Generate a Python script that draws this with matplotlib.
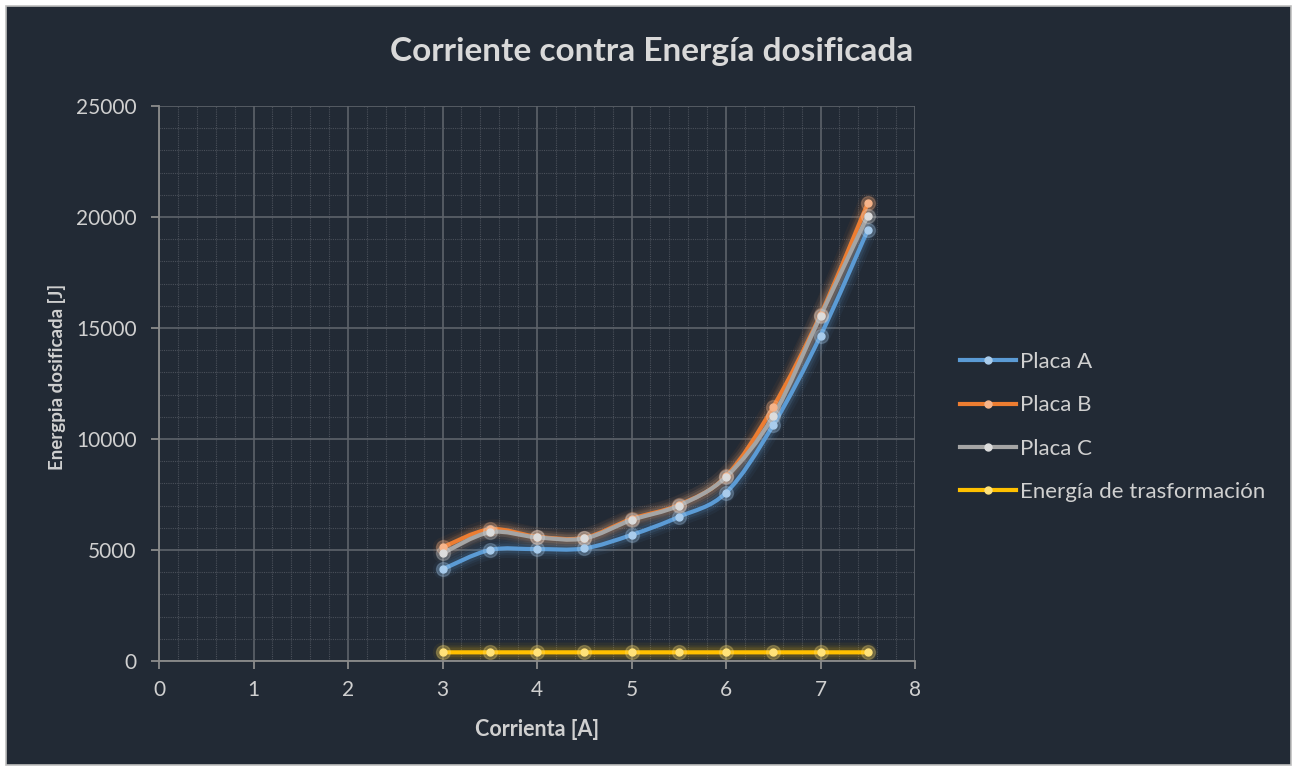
import numpy as np
import matplotlib.pyplot as plt
from matplotlib.path import Path
from matplotlib.patches import PathPatch, Rectangle

plt.rcParams['font.family'] = ['Lato', 'DejaVu Sans']

# Data
corriente = [3, 3.5, 4, 4.5, 5, 5.5, 6, 6.5, 7, 7.5]
placa_a = [4130, 5000, 5040, 5070, 5680, 6490, 7580, 10630, 14650, 19410]
placa_b = [5120, 5930, 5600, 5550, 6400, 7030, 8320, 11450, 15600, 20620]
placa_c = [4850, 5800, 5570, 5520, 6350, 7000, 8290, 11040, 15540, 20060]
energia_trans = [390, 390, 390, 390, 390, 390, 390, 390, 390, 390]

series = [
    ('Placa A', placa_a, '#5B9BD5', '#A9CCEC'),
    ('Placa B', placa_b, '#ED7D31', '#F6B48A'),
    ('Placa C', placa_c, '#A5A5A5', '#DCDCDC'),
    ('Energía de trasformación', energia_trans, '#FFC000', '#FFE27A'),
]

bg = '#222A35'
txt = '#D0D0D0'


def smooth_path(x, y):
    # Bezier segments (Catmull-Rom style, like Excel's smoothed line)
    x = np.asarray(x, float)
    y = np.asarray(y, float)
    n = len(x)
    verts = [(x[0], y[0])]
    codes = [Path.MOVETO]
    for i in range(n - 1):
        x0, y0 = (x[i - 1], y[i - 1]) if i > 0 else (x[i], y[i])
        x3, y3 = (x[i + 2], y[i + 2]) if i + 2 < n else (x[i + 1], y[i + 1])
        c1 = (x[i] + (x[i + 1] - x0) / 6, y[i] + (y[i + 1] - y0) / 6)
        c2 = (x[i + 1] - (x3 - x[i]) / 6, y[i + 1] - (y3 - y[i]) / 6)
        verts += [c1, c2, (x[i + 1], y[i + 1])]
        codes += [Path.CURVE4] * 3
    return Path(verts, codes)


fig = plt.figure(figsize=(13.08, 7.71), dpi=100, facecolor='white')
fig.patches.append(Rectangle((6 / 1308, 6 / 771), 1285 / 1308, 759 / 771,
                             transform=fig.transFigure, facecolor=bg,
                             edgecolor='#BFBFBF', linewidth=1.2, zorder=-10))

ax = fig.add_axes([159 / 1308, 1 - 661 / 771, 756 / 1308, 555 / 771])
ax.set_facecolor(bg)

for label, vals, col, mcol in series:
    p = smooth_path(corriente, vals)
    for lw, a in [(14, 0.06), (10, 0.08), (7, 0.12)]:
        ax.add_patch(PathPatch(p, fill=False, edgecolor=col, lw=lw, alpha=a,
                               capstyle='round', joinstyle='round', zorder=2))
    ax.add_patch(PathPatch(p, fill=False, edgecolor=col, lw=3, zorder=3))
    ax.plot(corriente, vals, 'o', color=mcol, markersize=10, alpha=0.25, zorder=3)
    ax.plot(corriente, vals, 'o', color=mcol, markersize=5, zorder=4)
    ax.plot([], [], '-o', color=col, lw=3, markersize=5, markerfacecolor=mcol,
            markeredgecolor=mcol, label=label)

ax.set_xlim(0, 8)
ax.set_ylim(0, 25000)
ax.set_xticks(np.arange(0, 9, 1))
ax.set_yticks(np.arange(0, 25001, 5000))
ax.set_xticks(np.arange(0, 8.01, 0.2), minor=True)
ax.set_yticks(np.arange(0, 25001, 1000), minor=True)
ax.grid(which='major', color='#5E636B', lw=1.2)
ax.grid(which='minor', color='#4A505A', lw=0.8, ls=(0, (1, 1)))
ax.set_axisbelow(True)

for s in ['top', 'right']:
    ax.spines[s].set_visible(False)
for s in ['left', 'bottom']:
    ax.spines[s].set_color('#8C8C8C')
    ax.spines[s].set_linewidth(1.3)
ax.tick_params(which='major', colors='#8C8C8C', length=6, width=1.3,
               labelcolor=txt, labelsize=15)
ax.tick_params(which='minor', length=0)
ax.tick_params(axis='x', pad=8)
ax.tick_params(axis='y', pad=10)

ax.set_xlabel('Corrienta [A]', fontsize=15.5, fontweight='bold', color=txt)
ax.xaxis.set_label_coords(0.5, -(719 - 661) / 555)
ax.set_ylabel('Energpia dosificada [J]', fontsize=13.5, fontweight='bold', color=txt)
ax.yaxis.set_label_coords(-(159 - 66) / 756, (661 - 377) / 555)
fig.text(652 / 1308, 1 - 52 / 771, 'Corriente contra Energía dosificada',
         ha='center', va='center', fontsize=24, fontweight='bold', color='#D9D9D9')

leg = ax.legend(loc='upper left', bbox_to_anchor=(949 / 1308, 1 - 341 / 771),
                bbox_transform=fig.transFigure, frameon=False, borderpad=0,
                fontsize=16, labelcolor=txt, handlelength=2.5, handletextpad=0.2,
                labelspacing=1.05)

fig.savefig('out.png', dpi=100, facecolor='white')
